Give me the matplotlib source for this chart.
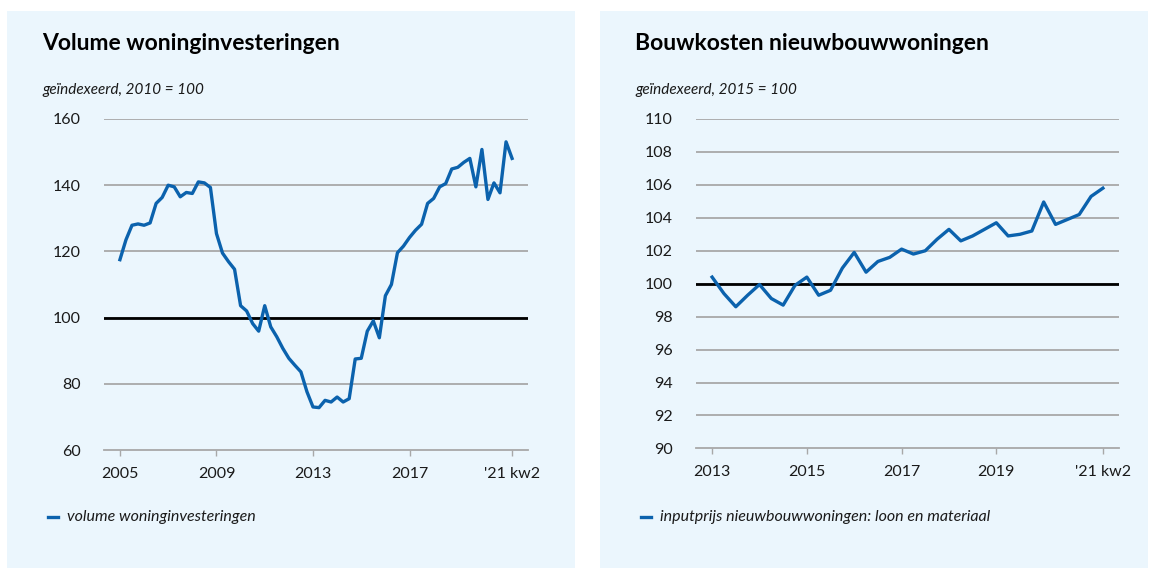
import numpy as np
import matplotlib.pyplot as plt
from matplotlib.patches import Rectangle
from matplotlib.lines import Line2D

plt.rcParams['font.family'] = ['Lato', 'DejaVu Sans']

#####################################################
# data (quarterly)

vol_start = 2005.0
volume = [117.5, 123.5, 127.9, 128.3, 127.9, 128.6, 134.5, 136.3,
          140.0, 139.5, 136.5, 137.8, 137.5, 141.0, 140.7, 139.3,
          125.4, 119.5, 116.9, 114.6, 103.6, 102.0, 98.2, 95.9,
          103.6, 97.2, 94.2, 90.7, 87.7, 85.6, 83.6, 77.6,
          73.0, 72.8, 75.0, 74.5, 76.0, 74.5, 75.5, 87.5,
          87.7, 95.9, 99.0, 93.9, 106.6, 110.0, 119.6, 121.6,
          124.2, 126.4, 128.2, 134.5, 136.0, 139.5, 140.5, 144.9,
          145.4, 146.9, 148.1, 139.5, 150.8, 135.7, 140.7, 137.7,
          153.1, 148.1]

cost_start = 2013.0
kosten = [100.4, 99.4, 98.6, 99.3, 99.95, 99.1, 98.7, 99.9,
          100.4, 99.3, 99.6, 100.95, 101.9, 100.7, 101.35, 101.6,
          102.1, 101.8, 102.0, 102.7, 103.3, 102.6, 102.9, 103.3,
          103.7, 102.9, 103.0, 103.2, 104.96, 103.6, 103.9, 104.2,
          105.3, 105.8]

vol_ticks = [2005, 2009, 2013, 2017, 2021.25]
vol_labels = ['2005', '2009', '2013', '2017', "'21 kw2"]
cost_ticks = [2013, 2015, 2017, 2019, 2021.25]
cost_labels = ['2013', '2015', '2017', '2019', "'21 kw2"]

titles = ['Volume woninginvesteringen', 'Bouwkosten nieuwbouwwoningen']
subtitles = ['geïndexeerd, 2010 = 100', 'geïndexeerd, 2015 = 100']
legends = ['volume woninginvesteringen',
           'inputprijs nieuwbouwwoningen: loon en materiaal']

#####################################################

W, H = 1151, 570
BG = '#ebf6fd'
BLUE = '#0b62ad'
GRID = '#a8a8a8'
TXT = '#1a1a1a'

def fx(px): return px / W
def fy(py): return 1 - py / H

fig = plt.figure(figsize=(W / 100, H / 100), dpi=100)
fig.patch.set_facecolor('white')

# panel backgrounds
for x0, x1 in [(7, 575), (600, 1148)]:
    fig.patches.append(Rectangle((fx(x0), fy(568)), fx(x1) - fx(x0), fy(11) - fy(568),
                                 transform=fig.transFigure, facecolor=BG,
                                 edgecolor='none', zorder=-5))

def make_panel(rect, start, vals, ylim, yticks, xlim, xticks, xlabels):
    ax = fig.add_axes(rect)
    ax.set_facecolor('none')
    ax.set_zorder(2)
    x = start + np.arange(len(vals)) / 4
    for t in yticks[1:]:
        ax.axhline(t, color=GRID, lw=1.3, zorder=1)
    ax.axhline(100, color='black', lw=2.0, zorder=2)
    ax.plot(x, vals, color=BLUE, lw=2.4, zorder=3, solid_joinstyle='round')
    ax.set_xlim(*xlim)
    ax.set_ylim(*ylim)
    ax.set_yticks(yticks)
    ax.set_yticklabels([str(t) for t in yticks])
    ax.set_xticks(xticks)
    ax.set_xticklabels(xlabels)
    for s in ['top', 'right', 'left']:
        ax.spines[s].set_visible(False)
    ax.spines['bottom'].set_color(GRID)
    ax.spines['bottom'].set_linewidth(1.3)
    ax.tick_params(axis='y', length=0, pad=17, labelsize=11.5, labelcolor=TXT)
    ax.tick_params(axis='x', length=4, width=1, color=GRID, direction='out',
                   pad=8, labelsize=11.5, labelcolor=TXT)
    return ax

make_panel([fx(104), fy(450), fx(528) - fx(104), fy(119) - fy(450)],
           vol_start, volume, (60, 160), list(range(60, 161, 20)),
           (2005 - 0.66, 2021.25 + 0.66), vol_ticks, vol_labels)

make_panel([fx(696), fy(448.4), fx(1119) - fx(696), fy(119) - fy(448.4)],
           cost_start, kosten, (90, 110), list(range(90, 111, 2)),
           (2013 - 0.34, 2021.25 + 0.34), cost_ticks, cost_labels)

# titles, subtitles, legends
for i, x0 in enumerate([42, 635]):
    fig.text(fx(x0), fy(43), titles[i], fontsize=16.5, fontweight='bold',
             color='black', va='center', ha='left')
    fig.text(fx(x0), fy(90), subtitles[i], fontsize=11, style='italic',
             color=TXT, va='center', ha='left')
    lx = x0 + 6
    fig.add_artist(Line2D([fx(lx), fx(lx + 10)], [fy(517), fy(517)],
                          color=BLUE, lw=2.4, transform=fig.transFigure))
    fig.text(fx(lx + 19), fy(517), legends[i], fontsize=11.5, style='italic',
             color=TXT, va='center', ha='left')

fig.savefig('out.png', dpi=100)
